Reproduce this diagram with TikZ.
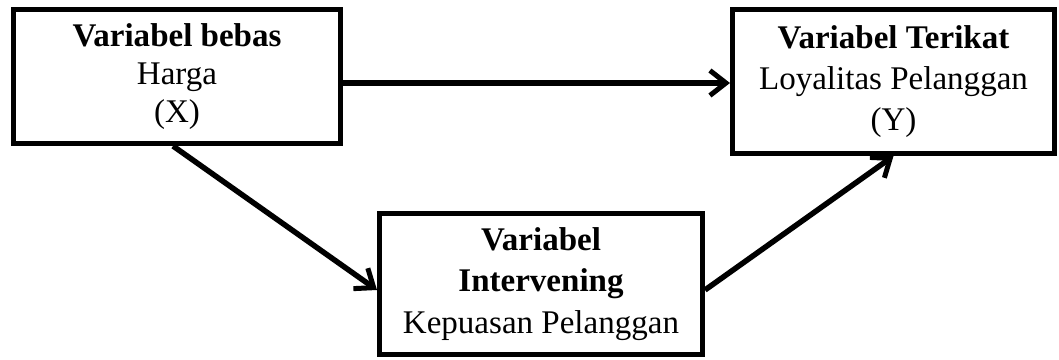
\documentclass[tikz,border=0pt]{standalone}
\usepackage{fontspec}
\setmainfont{Liberation Serif}
\usetikzlibrary{arrows.meta}

\begin{document}
\begin{tikzpicture}[font=\fontsize{18.8}{23.5}\selectfont,
	varbox/.style={draw, line width=0.1cm, align=center, inner sep=0pt},
	arr/.style={line width=0.11cm, -{Straight Barb[length=0.32cm, width=0.5cm, line width=0.1cm]}}]
		\def\bw{6.55}\def\bh{2.75}
		\useasboundingbox (0,0) rectangle (21.18,-7.2);
		% the three variables
		\node[varbox, minimum width=6.52cm, minimum height=2.68cm,
			font=\fontsize{18.8}{21.5}\selectfont] (X) at (3.54,-1.53)
			{\textbf{Variabel bebas}\\Harga\\(X)};
		\node[varbox, minimum width=6.44cm, minimum height=2.88cm] (Y) at (17.87,-1.63)
			{\textbf{Variabel Terikat}\\Loyalitas Pelanggan\\(Y)};
		\node[varbox, minimum width=6.46cm, minimum height=2.82cm] (I) at (10.82,-5.68)
			{\textbf{Variabel}\\\textbf{Intervening}\\Kepuasan Pelanggan};
		% paths
		\draw[arr] ([yshift=-0.13cm]X.east) -- ([yshift=-0.13cm]X.east -| Y.west);
		\draw[arr] ([xshift=-0.08cm]X.south) -- ([yshift=-0.12cm]I.west);
		\draw[arr] ([yshift=-0.12cm]I.east) -- (Y.south);
	\end{tikzpicture}
\end{document}
